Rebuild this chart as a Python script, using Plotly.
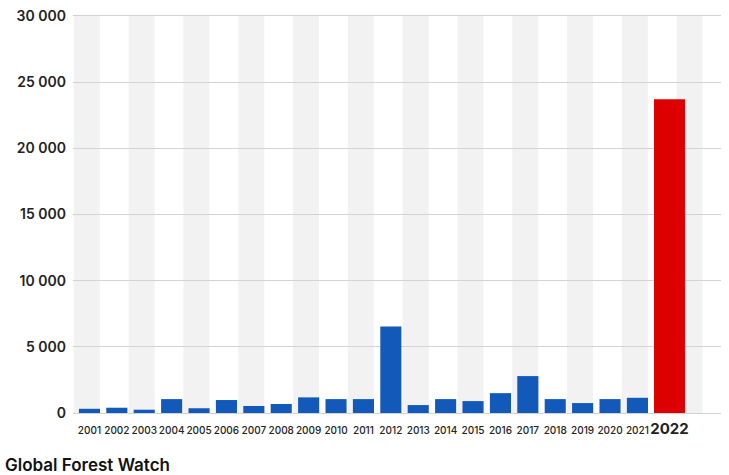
import plotly.graph_objects as go

# --- data ---
years = list(range(2001, 2023))
values = [320, 400, 250, 1050, 360, 980, 530, 680, 1180, 1050, 1050,
          6540, 600, 1050, 900, 1500, 2790, 1050, 750, 1050, 1150, 23700]
y_ticks = [0, 5000, 10000, 15000, 20000, 25000, 30000]
y_ticktext = ["0", "5 000", "10 000", "15 000", "20 000", "25 000", "30 000"]
source = "Global Forest Watch"

BLUE = "#1259BA"
RED = "#DD0000"
last = years[-1]
SHIFT = 0.17  # the highlighted bar sits a little to the right

colors = [RED if y == last else BLUE for y in years]
widths = [1.13 if y == last else 0.77 for y in years]
offsets = [-w / 2 + (SHIFT if y == last else 0) for y, w in zip(years, widths)]
tickpos = [y + SHIFT if y == last else y for y in years]
ticktext = [f"<span style='font-size:15px'><b>{y}</b></span>" if y == last else str(y)
            for y in years]

fig = go.Figure()
fig.add_trace(go.Bar(
    x=years, y=values, width=widths, offset=offsets,
    marker=dict(color=colors, line=dict(width=0)),
    hovertemplate="%{x}: %{y:,}<extra></extra>",
))

# alternating grey column bands (odd years, running one past the data)
for y in range(years[0], last + 2, 2):
    fig.add_shape(type="rect", xref="x", yref="y",
                  x0=y - 0.57, x1=y + 0.38, y0=0, y1=30000,
                  fillcolor="#F2F2F2", line=dict(width=0), layer="below")

fig.add_annotation(text=source, xref="paper", yref="paper",
                   x=-0.108, y=-0.13, xanchor="left", yanchor="middle",
                   showarrow=False,
                   font=dict(family="Inter", size=17, color="#111111", weight=600))

fig.update_layout(
    width=729, height=475,
    margin=dict(l=73, r=8, t=14, b=62, autoexpand=False),
    paper_bgcolor="white", plot_bgcolor="white",
    showlegend=False,
    xaxis=dict(range=[2000.4, 2024.05], tickvals=tickpos, ticktext=ticktext,
               tickangle=0, automargin=False, ticklabelstandoff=10,
               showgrid=False, zeroline=False, showline=False, ticks="",
               tickfont=dict(family="Inter", size=10, color="#222222", weight=500)),
    yaxis=dict(range=[0, 30150], tickvals=y_ticks, ticktext=y_ticktext,
               automargin=False,
               showgrid=True, gridcolor="#D3D3D3", gridwidth=1,
               zeroline=True, zerolinecolor="#D3D3D3", zerolinewidth=1,
               ticks="", ticklabelstandoff=6,
               tickfont=dict(family="Inter", size=14, color="#222222", weight=600)),
)

# drop the page's default body margin so the figure sits at the window corner
fig.write_html("out.html", config={"displayModeBar": False},
               post_script="document.body.style.margin='0';")
